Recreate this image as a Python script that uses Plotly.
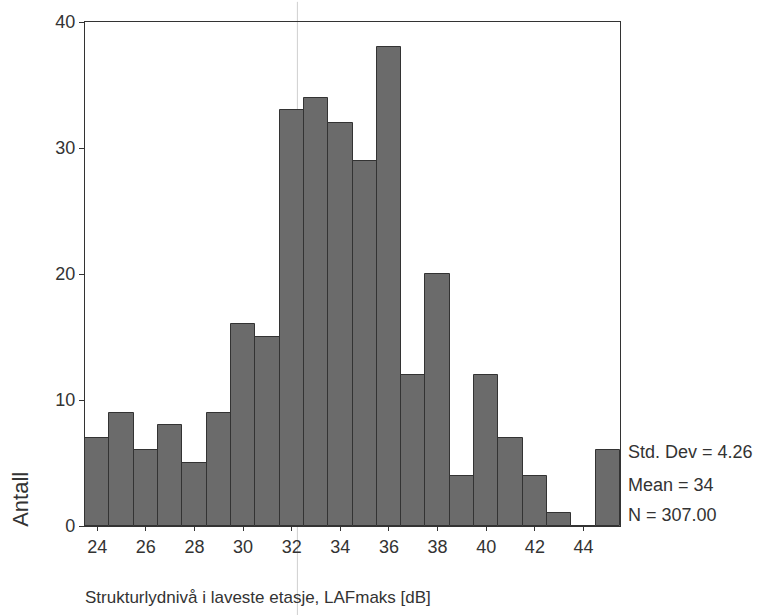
import plotly.graph_objects as go

# Histogram bin centres (dB) and counts
bins = [24, 25, 26, 27, 28, 29, 30, 31, 32, 33, 34, 35, 36, 37, 38, 39, 40, 41, 42, 43, 44, 45]
counts = [7, 9, 6, 8, 5, 9, 16, 15, 33, 34, 32, 29, 38, 12, 20, 4, 12, 7, 4, 1, 0, 6]
x_ticks = [24, 26, 28, 30, 32, 34, 36, 38, 40, 42, 44]
y_ticks = [0, 10, 20, 30, 40]
stats_lines = ["Std. Dev = 4.26", "Mean = 34", "N = 307.00"]
stats_y = [5.85, 3.25, 0.9]

FONT = "Liberation Sans, Arial, sans-serif"
TXT = "#333333"

fig = go.Figure()
fig.add_trace(go.Bar(
    x=bins, y=counts, width=1,
    marker=dict(color="#6b6b6b", line=dict(color="#333333", width=1)),
    showlegend=False,
))

fig.update_layout(
    width=757, height=615,
    margin=dict(l=85, r=137, t=19.5, b=89),
    paper_bgcolor="white", plot_bgcolor="white",
    bargap=0,
    font=dict(family=FONT, color=TXT, size=18),
    xaxis=dict(
        range=[23.5, 45.5], tickvals=x_ticks, ticktext=[str(v) for v in x_ticks],
        showgrid=False, zeroline=False,
        showline=True, linecolor="#333333", linewidth=1.2, mirror=True,
        ticks="outside", ticklen=4, tickcolor="#333333",
        tickfont=dict(size=18, color=TXT),
    ),
    yaxis=dict(
        range=[0, 40], tickvals=y_ticks, ticktext=[str(v) for v in y_ticks],
        showgrid=False, zeroline=False,
        showline=True, linecolor="#333333", linewidth=1.2, mirror=True,
        ticks="outside", ticklen=5, tickcolor="#333333",
        tickfont=dict(size=18, color=TXT),
    ),
)

for txt, yv in zip(stats_lines, stats_y):
    fig.add_annotation(x=1.012, xref="paper", y=yv, yref="y", text=txt,
                       showarrow=False, xanchor="left", yanchor="middle",
                       font=dict(size=18, color=TXT))

fig.add_annotation(x=-0.121, xref="paper", y=2.1, yref="y", text="Antall",
                   textangle=-90, showarrow=False, xanchor="center", yanchor="middle",
                   font=dict(size=22, color=TXT))

fig.add_annotation(x=-0.003, xref="paper", y=-0.142, yref="paper",
                   text="Strukturlydnivå i laveste etasje, LAFmaks [dB]",
                   showarrow=False, xanchor="left", yanchor="middle",
                   font=dict(size=17, color=TXT))

# faint vertical scan line visible in the reference
fig.add_shape(type="line", xref="paper", yref="paper", x0=0.397, x1=0.397,
              y0=-0.18, y1=1.04, line=dict(color="#cfcfcf", width=1), layer="below")

fig.write_html("out.html", config={"displayModeBar": False},
               post_script="document.body.style.margin='0';document.body.style.padding='0';")
